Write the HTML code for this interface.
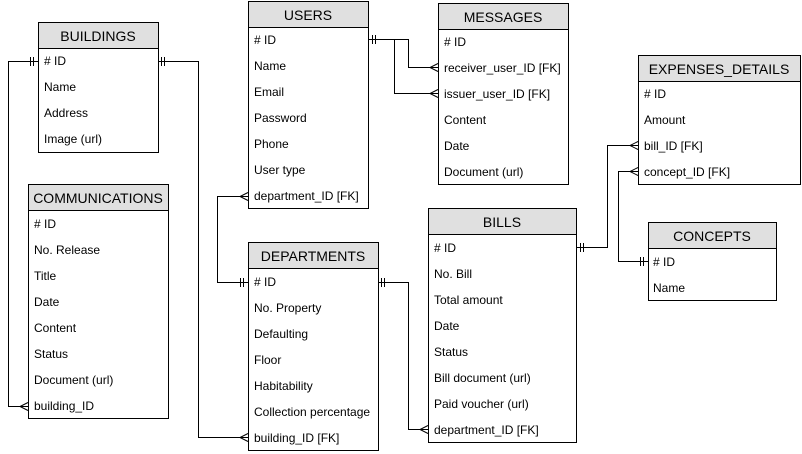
<!DOCTYPE html>
<html><head><meta charset="utf-8"><style>
html,body{margin:0;padding:0;background:#fff;}
svg{display:block;font-family:"Liberation Sans",Arial,sans-serif;}
.h{font-size:14px;fill:#000;text-anchor:middle;}
.r{font-size:12px;fill:#000;}
.l{fill:none;stroke:#000;stroke-width:1;}
</style></head><body>
<svg width="802" height="454" viewBox="0 0 802 454" xmlns="http://www.w3.org/2000/svg">
<g shape-rendering="crispEdges">
<polyline class="l" points="38.5,61.5 8.5,61.5 8.5,406.5 28.5,406.5"/>
<polyline class="l" points="158.5,61.5 198.5,61.5 198.5,437.5 248.5,437.5"/>
<polyline class="l" points="248.5,196.5 217.5,196.5 217.5,282.5 248.5,282.5"/>
<polyline class="l" points="368.5,39.5 408.5,39.5 408.5,67.5 438.5,67.5"/>
<polyline class="l" points="394.5,39.5 394.5,93.5 438.5,93.5"/>
<polyline class="l" points="378.5,282.5 408.5,282.5 408.5,429.5 428.5,429.5"/>
<polyline class="l" points="576.5,247.5 607.5,247.5 607.5,145.5 638.5,145.5"/>
<polyline class="l" points="648.5,261.5 618.5,261.5 618.5,171.5 638.5,171.5"/>
<path class="l" d="M30.5,57v9M33.5,57v9 M161.5,57v9M164.5,57v9 M372.5,35v9M375.5,35v9 M240.5,278v9M243.5,278v9 M381.5,278v9M384.5,278v9 M580.5,243v9M583.5,243v9 M640.5,257v9M643.5,257v9"/>
</g>
<path class="l" d="M28,402.5L20,406.5L28,410.5 M248,433.5L240,437.5L248,441.5 M248,192.5L240,196.5L248,200.5 M438,63.5L430,67.5L438,71.5 M438,89.5L430,93.5L438,97.5 M428,425.5L420,429.5L428,433.5 M638,141.5L630,145.5L638,149.5 M638,167.5L630,171.5L638,175.5"/>
<g shape-rendering="crispEdges">
<rect x="38.5" y="22.5" width="120" height="130" fill="#fff" stroke="#000"/>
<rect x="38.5" y="22.5" width="120" height="26" fill="#e0e0e0" stroke="#000"/>
<rect x="248.5" y="1.5" width="120" height="207" fill="#fff" stroke="#000"/>
<rect x="248.5" y="1.5" width="120" height="26" fill="#e0e0e0" stroke="#000"/>
<rect x="438.5" y="3.5" width="130" height="181" fill="#fff" stroke="#000"/>
<rect x="438.5" y="3.5" width="130" height="26" fill="#e0e0e0" stroke="#000"/>
<rect x="638.5" y="55.5" width="162" height="129" fill="#fff" stroke="#000"/>
<rect x="638.5" y="55.5" width="162" height="26" fill="#e0e0e0" stroke="#000"/>
<rect x="28.5" y="184.5" width="140" height="234" fill="#fff" stroke="#000"/>
<rect x="28.5" y="184.5" width="140" height="26" fill="#e0e0e0" stroke="#000"/>
<rect x="248.5" y="242.5" width="130" height="208" fill="#fff" stroke="#000"/>
<rect x="248.5" y="242.5" width="130" height="26" fill="#e0e0e0" stroke="#000"/>
<rect x="428.5" y="208.5" width="148" height="234" fill="#fff" stroke="#000"/>
<rect x="428.5" y="208.5" width="148" height="26" fill="#e0e0e0" stroke="#000"/>
<rect x="648.5" y="222.5" width="128" height="78" fill="#fff" stroke="#000"/>
<rect x="648.5" y="222.5" width="128" height="26" fill="#e0e0e0" stroke="#000"/>
</g>
<text class="h" x="98" y="41">BUILDINGS</text>
<g class="r"><text x="44" y="65">#&#160;ID</text><text x="44" y="91">Name</text><text x="44" y="117">Address</text><text x="44" y="143">Image (url)</text></g>
<text class="h" x="308" y="20">USERS</text>
<g class="r"><text x="254" y="44">#&#160;ID</text><text x="254" y="70">Name</text><text x="254" y="96">Email</text><text x="254" y="122">Password</text><text x="254" y="148">Phone</text><text x="254" y="174">User type</text><text x="254" y="200">department_ID [FK]</text></g>
<text class="h" x="503" y="22">MESSAGES</text>
<g class="r"><text x="444" y="46">#&#160;ID</text><text x="444" y="72">receiver_user_ID [FK]</text><text x="444" y="98">issuer_user_ID [FK]</text><text x="444" y="124">Content</text><text x="444" y="150">Date</text><text x="444" y="176">Document (url)</text></g>
<text class="h" x="719" y="74">EXPENSES_DETAILS</text>
<g class="r"><text x="644" y="98">#&#160;ID</text><text x="644" y="124">Amount</text><text x="644" y="150">bill_ID [FK]</text><text x="644" y="176">concept_ID [FK]</text></g>
<text class="h" x="98" y="203">COMMUNICATIONS</text>
<g class="r"><text x="34" y="228">#&#160;ID</text><text x="34" y="254">No. Release</text><text x="34" y="280">Title</text><text x="34" y="306">Date</text><text x="34" y="332">Content</text><text x="34" y="358">Status</text><text x="34" y="384">Document (url)</text><text x="34" y="410">building_ID</text></g>
<text class="h" x="313" y="261">DEPARTMENTS</text>
<g class="r"><text x="254" y="286">#&#160;ID</text><text x="254" y="312">No. Property</text><text x="254" y="338">Defaulting</text><text x="254" y="364">Floor</text><text x="254" y="390">Habitability</text><text x="254" y="416">Collection percentage</text><text x="254" y="442">building_ID [FK]</text></g>
<text class="h" x="502" y="227">BILLS</text>
<g class="r"><text x="434" y="252">#&#160;ID</text><text x="434" y="278">No. Bill</text><text x="434" y="304">Total amount</text><text x="434" y="330">Date</text><text x="434" y="356">Status</text><text x="434" y="382">Bill document (url)</text><text x="434" y="408">Paid voucher (url)</text><text x="434" y="434">department_ID [FK]</text></g>
<text class="h" x="712" y="241">CONCEPTS</text>
<g class="r"><text x="653" y="266">#&#160;ID</text><text x="653" y="292">Name</text></g>
</svg>
</body></html>
